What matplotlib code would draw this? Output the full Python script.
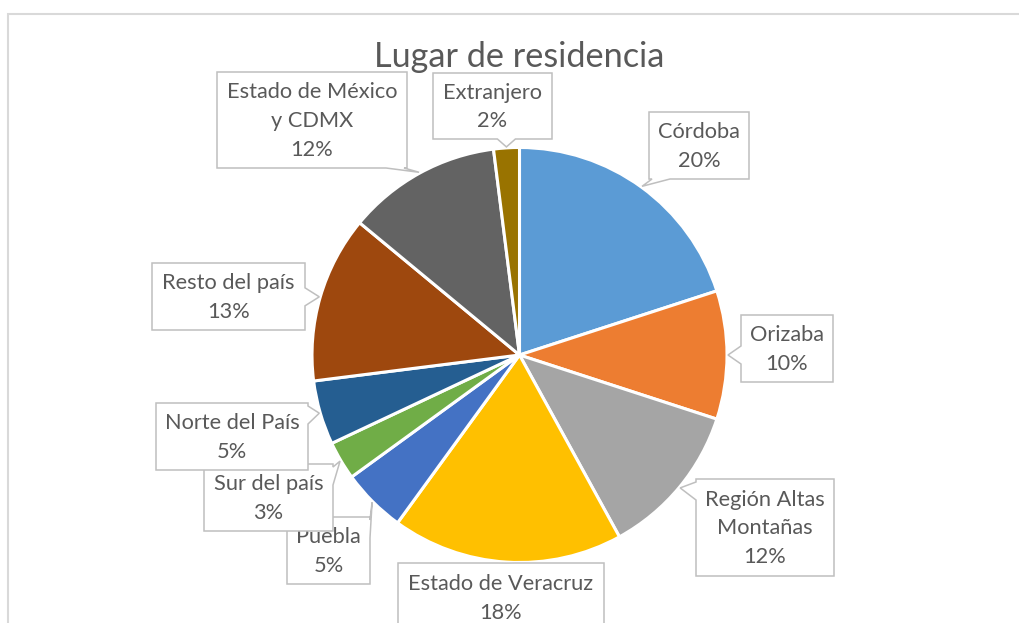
import numpy as np
import matplotlib
matplotlib.use('Agg')
import matplotlib.pyplot as plt
from matplotlib.patches import Polygon

plt.rcParams['font.family'] = ['Lato', 'DejaVu Sans']

# ---- data ----
categories = ['Córdoba', 'Orizaba', 'Región Altas\nMontañas', 'Estado de Veracruz',
              'Puebla', 'Sur del país', 'Norte del País', 'Resto del país',
              'Estado de México\ny CDMX', 'Extranjero']
values = [20, 10, 12, 18, 5, 3, 5, 13, 12, 2]
colors = ['#5B9BD5', '#ED7D31', '#A5A5A5', '#FFC000', '#4472C4',
          '#70AD47', '#255E91', '#9E480E', '#636363', '#997300']
title = 'Lugar de residencia'

# ---- layout (pixel coordinates) ----
boxes = [(649, 112, 749, 179), (741, 315, 833, 382), (696, 479, 834, 576),
         (398, 563, 604, 632), (287, 517, 370, 584), (204, 464, 333, 531),
         (156, 403, 308, 470), (152, 263, 305, 330), (217, 72, 407, 168),
         (433, 73, 552, 139)]
sides = ['bottom', 'left', 'left', 'top', 'right', 'right', 'right', 'right',
         'bottom', 'bottom']

W, H = 1019, 623
CX, CY, R = 519.5, 355, 207.5
TXT = '#595959'
EDGE = '#BFBFBF'

fig = plt.figure(figsize=(W / 100, H / 100), dpi=100)
ax = fig.add_axes([0, 0, 1, 1])
wedges, _ = ax.pie(values, colors=colors, startangle=-90, counterclock=True,
                   center=(CX, CY), radius=R,
                   wedgeprops=dict(edgecolor='white', linewidth=2.2))
ax.set_xlim(0, W)
ax.set_ylim(H, 0)
ax.set_aspect('auto')
ax.axis('off')

# chart frame
ax.plot([8.5, 8.5, W + 5], [H + 5, 13.5, 13.5], color='#D9D9D9', lw=1.5,
        zorder=1, solid_joinstyle='miter')

ax.text(CX, 67, title, ha='center', va='baseline', fontsize=24.7, color=TXT)

total = sum(values)


def callout_poly(box, tip, side, h=9, m=12):
    x0, y0, x1, y1 = box
    tx, ty = tip
    tl, tr, br, bl = (x0, y0), (x1, y0), (x1, y1), (x0, y1)
    if side == 'top':
        c = min(max(tx, x0 + m), x1 - m)
        pts = [tl, (c - h, y0), tip, (c + h, y0), tr, br, bl]
    elif side == 'right':
        c = min(max(ty, y0 + m), y1 - m)
        pts = [tl, tr, (x1, c - h), tip, (x1, c + h), br, bl]
    elif side == 'bottom':
        c = min(max(tx, x0 + m), x1 - m)
        pts = [tl, tr, br, (c + h, y1), tip, (c - h, y1), bl]
    else:
        c = min(max(ty, y0 + m), y1 - m)
        pts = [tl, tr, br, bl, (x0, c + h), tip, (x0, c - h)]
    return pts


for i, (w, cat, val) in enumerate(zip(wedges, categories, values)):
    mid = np.deg2rad((w.theta1 + w.theta2) / 2)
    tip = (CX + (R + 1) * np.cos(mid), CY + (R + 1) * np.sin(mid))
    box = boxes[i]
    poly = Polygon(callout_poly(box, tip, sides[i]), closed=True, fc='white',
                   ec=EDGE, lw=1.1, zorder=5 + 2 * i, joinstyle='miter')
    ax.add_patch(poly)
    pct = round(val / total * 100)
    ax.text((box[0] + box[2]) / 2, (box[1] + box[3]) / 2 + 1, f'{cat}\n{pct}%',
            ha='center', va='center', fontsize=15.7, color=TXT, linespacing=1.55,
            zorder=6 + 2 * i)

fig.savefig('out.png', dpi=100)
